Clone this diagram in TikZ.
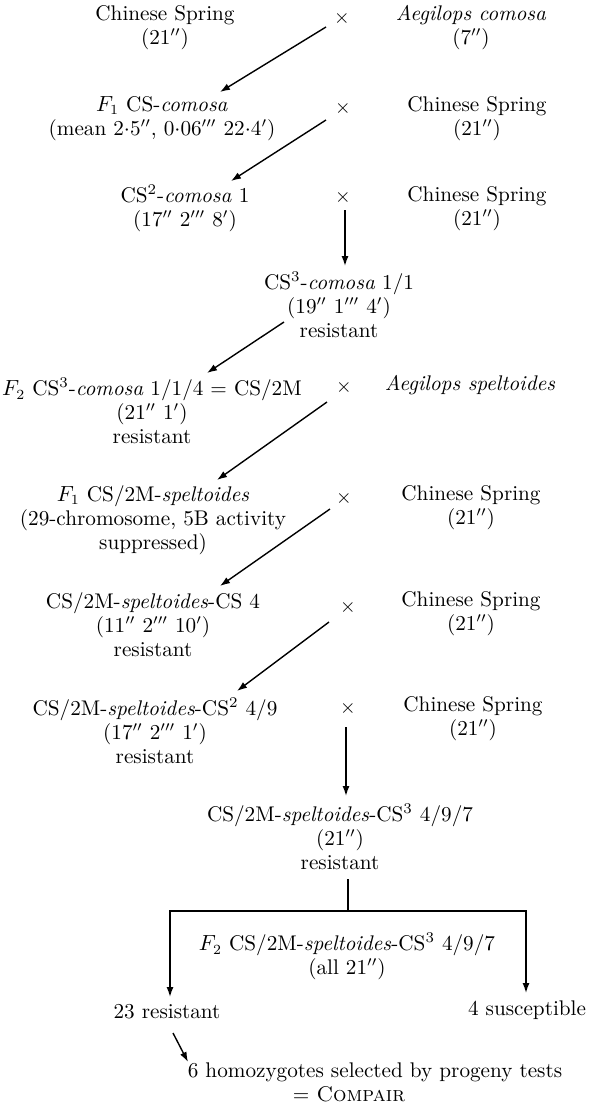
\documentclass[tikz,border=0pt]{standalone}
\usetikzlibrary{arrows.meta,calc}
\begin{document}
\begin{tikzpicture}[x=0.5pt,y=-0.5pt,
  every node/.style={font=\fontsize{10.6}{12}\selectfont, align=center, inner sep=0pt},
  cross/.style={font=\fontsize{10}{11}\selectfont},
  arr/.style={line width=0.7pt,-{Latex[length=5pt,width=3.5pt]}},
  ln/.style={line width=0.7pt}]
\useasboundingbox (0,0) rectangle (589,1104);

% parents
\node (cs1) at (165,28) {Chinese Spring\\(21$''$)};
\node[cross] (x1) at (342,18) {$\times$};
\node (aco) at (471,28) {\textit{Aegilops comosa}\\(7$''$)};

% F1 and backcrosses to Chinese Spring
\node (f1) at (162,118.5) {$F_1$ CS-\textit{comosa}\\(mean 2$\cdot$5$''$, 0$\cdot$06$'''$ 22$\cdot$4$'$)};
\node[cross] (x2) at (343,108) {$\times$};
\node (cs2) at (477,118.5) {Chinese Spring\\(21$''$)};

\node (bc1) at (185,208.5) {CS\textsuperscript{2}-\textit{comosa} 1\\(17$''$ 2$'''$ 8$'$)};
\node[cross] (x3) at (343,197) {$\times$};
\node (cs3) at (477,208.5) {Chinese Spring\\(21$''$)};

\node (bc2) at (339,305) {CS\textsuperscript{3}-\textit{comosa} 1/1\\(19$''$ 1$'''$ 4$'$)\\resistant};

\node (f2) at (152,411) {$F_2$ CS\textsuperscript{3}-\textit{comosa} 1/1/4 = CS/2M\\(21$''$ 1$'$)\\resistant};
\node[cross] (x4) at (344,387) {$\times$};
\node (asp) at (470,385) {\textit{Aegilops speltoides}};

% speltoides cross and backcrosses
\node (f1s) at (153,520) {$F_1$ CS/2M-\textit{speltoides}\\(29-chromosome, 5B activity\\suppressed)};
\node[cross] (x5) at (344,498) {$\times$};
\node (cs4) at (471,508) {Chinese Spring\\(21$''$)};

\node (b1) at (153,625) {CS/2M-\textit{speltoides}-CS 4\\(11$''$ 2$'''$ 10$'$)\\resistant};
\node[cross] (x6) at (348,607) {$\times$};
\node (cs5) at (471,614) {Chinese Spring\\(21$''$)};

\node (b2) at (155,731) {CS/2M-\textit{speltoides}-CS\textsuperscript{2} 4/9\\(17$''$ 2$'''$ 1$'$)\\resistant};
\node[cross] (x7) at (348,708) {$\times$};
\node (cs6) at (473,718.5) {Chinese Spring\\(21$''$)};

\node (b3) at (340,837) {CS/2M-\textit{speltoides}-CS\textsuperscript{3} 4/9/7\\(21$''$)\\resistant};

% F2 segregation
\node (f2b) at (347,956.5) {$F_2$ CS/2M-\textit{speltoides}-CS\textsuperscript{3} 4/9/7\\(all 21$''$)};
\node (r23) at (167,1012) {23 resistant};
\node (s4) at (527,1010) {4 susceptible};
\node (hom) at (375,1072) {6 homozygotes selected by progeny tests};
\node (comp) at (349,1094) {= \textsc{Compair}};

% connectors
\draw[arr] ($(x1)+(-16,9)$) -- ($(f1)+(58,-26.5)$);
\draw[arr] ($(x2)+(-17,12)$) -- ($(bc1)+(46,-27.5)$);
\draw[arr] ($(x3)+(2,13)$) -- ($(bc2)+(6,-39)$);
\draw[arr] ($(bc2)+(-55,17)$) -- ($(f2)+(55,-38)$);
\draw[arr] ($(x4)+(-17,15)$) -- ($(f1s)+(64,-40)$);
\draw[arr] ($(x5)+(-14,11)$) -- ($(b1)+(67,-39)$);
\draw[arr] ($(x6)+(-19,15)$) -- ($(b2)+(82,-40)$);
\draw[arr] ($(x7)+(-2,19)$) -- ($(b3)+(6,-41)$);

\coordinate (jt) at ($(b3)+(8,42)$);
\coordinate (jm) at ($(b3)+(8,74)$);
\draw[ln] (jt) -- (jm);
\draw[arr] (jm) -| ($(r23)+(3,-15)$);
\draw[arr] (jm) -| ($(s4)+(-1,-17)$);
\draw[arr] ($(r23)+(6,21)$) -- ($(hom)+(-187,-10)$);
\end{tikzpicture}
\end{document}
